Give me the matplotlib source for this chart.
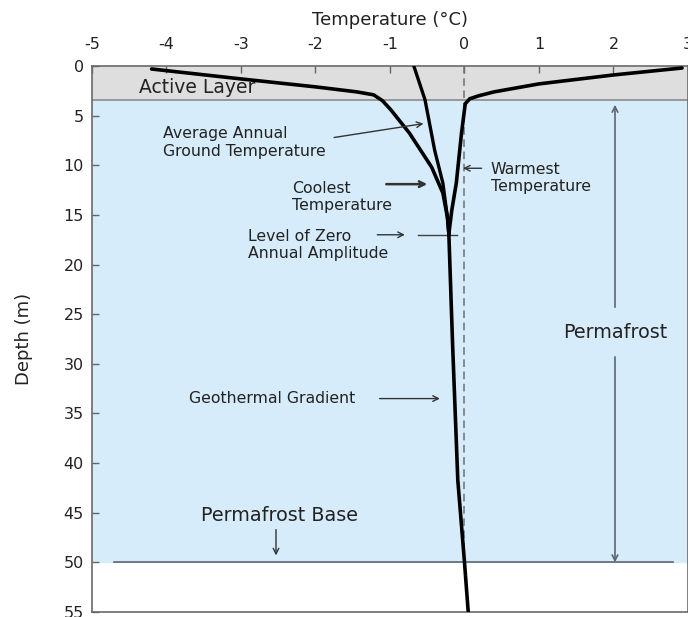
import matplotlib.pyplot as plt
import numpy as np

# temperature (°C) / depth (m)
coolest_t = [-4.2, -3.0, -2.0, -1.45, -1.22, -1.10, -0.99, -0.74, -0.44, -0.29, -0.23, -0.21]
coolest_d = [0.3, 1.3, 2.1, 2.6, 2.9, 3.5, 4.4, 6.75, 10.2, 12.8, 15.2, 16.9]

warmest_t = [2.92, 2.0, 1.0, 0.40, 0.19, 0.07, 0.01, -0.04, -0.11, -0.17, -0.21]
warmest_d = [0.2, 0.9, 1.8, 2.6, 3.0, 3.3, 3.8, 6.75, 11.8, 14.5, 16.9]

mean_t = [-0.68, -0.53, -0.40, -0.29, -0.23, -0.21]
mean_d = [0.0, 3.4, 8.5, 11.8, 15.2, 16.9]

gradient_t = [-0.21, -0.16, -0.09, 0.0, 0.05]
gradient_d = [16.9, 28.0, 41.7, 50.0, 55.0]

active_layer_depth = 3.4
permafrost_base = 50
x_ticks = [-5, -4, -3, -2, -1, 0, 1, 2, 3]
y_ticks = [0, 5, 10, 15, 20, 25, 30, 35, 40, 45, 50, 55]

plt.rcParams['font.family'] = ['DejaVu Sans']
plt.rcParams['axes.unicode_minus'] = False

fig = plt.figure(figsize=(6.88, 6.17), dpi=100)
ax = fig.add_axes([0.1337, 0.0081, 0.8663, 0.8849])

ax.set_xlim(-5, 3)
ax.set_ylim(55, 0)

# background layers
ax.axhspan(0, active_layer_depth, color='#dedede', zorder=0)
ax.axhspan(active_layer_depth, permafrost_base, color='#d6ecfa', zorder=0)
ax.axhline(active_layer_depth, color='#8a8a8a', lw=1.2, zorder=1)
ax.plot([-4.7, 2.8], [permafrost_base, permafrost_base], color='#5a6670', lw=1.2, zorder=1)

# zero line
ax.plot([0, 0], [0, 50], color='#707070', lw=1.1, ls=(0, (5, 3)), zorder=2)

# temperature envelope
ax.plot(coolest_t, coolest_d, color='black', lw=2.6, zorder=3, solid_capstyle='round')
ax.plot(warmest_t, warmest_d, color='black', lw=2.6, zorder=3, solid_capstyle='round')
ax.plot(mean_t, mean_d, color='black', lw=2.4, zorder=3)
ax.plot(gradient_t, gradient_d, color='black', lw=2.6, zorder=3)

# zero annual amplitude mark
ax.plot([-0.63, -0.1], [17.0, 17.0], color='#404040', lw=1.0, zorder=2)

txt = dict(fontsize=11.3, color='#222222')
arr = dict(arrowstyle='->', color='#333333', lw=1.0, shrinkA=0, shrinkB=0)

ax.text(-4.37, 2.2, 'Active Layer', fontsize=13.5, color='#222222', va='center')

ax.text(-4.05, 7.7, 'Average Annual\nGround Temperature', va='center', linespacing=1.2, **txt)
ax.annotate('', xy=(-0.55, 5.8), xytext=(-1.75, 7.2), arrowprops=arr)

ax.text(-2.31, 13.2, 'Coolest\nTemperature', va='center', linespacing=1.2, **txt)
ax.annotate('', xy=(-0.5, 11.9), xytext=(-1.05, 11.9),
            arrowprops=dict(arrowstyle='->', color='#333333', lw=1.8, shrinkA=0, shrinkB=0))

ax.text(0.35, 11.3, 'Warmest\nTemperature', va='center', linespacing=1.2, **txt)
ax.annotate('', xy=(-0.02, 10.3), xytext=(0.23, 10.3), arrowprops=arr)

ax.text(-2.91, 18.0, 'Level of Zero\nAnnual Amplitude', va='center', linespacing=1.2, **txt)
ax.annotate('', xy=(-0.8, 17.0), xytext=(-1.17, 17.0), arrowprops=arr)

ax.text(-3.7, 33.5, 'Geothermal Gradient', va='center', **txt)
ax.annotate('', xy=(-0.33, 33.5), xytext=(-1.14, 33.5), arrowprops=arr)

ax.text(2.02, 26.8, 'Permafrost', ha='center', va='center', fontsize=13.8, color='#222222')
ax.annotate('', xy=(2.02, 3.9), xytext=(2.02, 24.3),
            arrowprops=dict(arrowstyle='->', color='#5a6670', lw=1.2, shrinkA=0, shrinkB=0))
ax.annotate('', xy=(2.02, 50), xytext=(2.02, 29.3),
            arrowprops=dict(arrowstyle='->', color='#5a6670', lw=1.2, shrinkA=0, shrinkB=0))

ax.text(-2.48, 45.3, 'Permafrost Base', ha='center', va='center', fontsize=13.8, color='#222222')
ax.annotate('', xy=(-2.53, 49.3), xytext=(-2.53, 46.7), arrowprops=arr)

# axes styling
ax.xaxis.tick_top()
ax.xaxis.set_label_position('top')
ax.set_xticks(x_ticks)
ax.set_yticks(y_ticks)
ax.tick_params(direction='in', length=5, width=1, color='#666666', labelsize=11.5,
               labelcolor='#222222', pad=6)
ax.tick_params(axis='x', pad=10)
for s in ax.spines.values():
    s.set_color('#6a6a6a')
    s.set_linewidth(1.2)
ax.set_xlabel('Temperature (°C)', fontsize=13, color='#222222', labelpad=9)
ax.set_ylabel('Depth (m)', fontsize=13, color='#222222', labelpad=22)

fig.savefig('out.png', dpi=100)
